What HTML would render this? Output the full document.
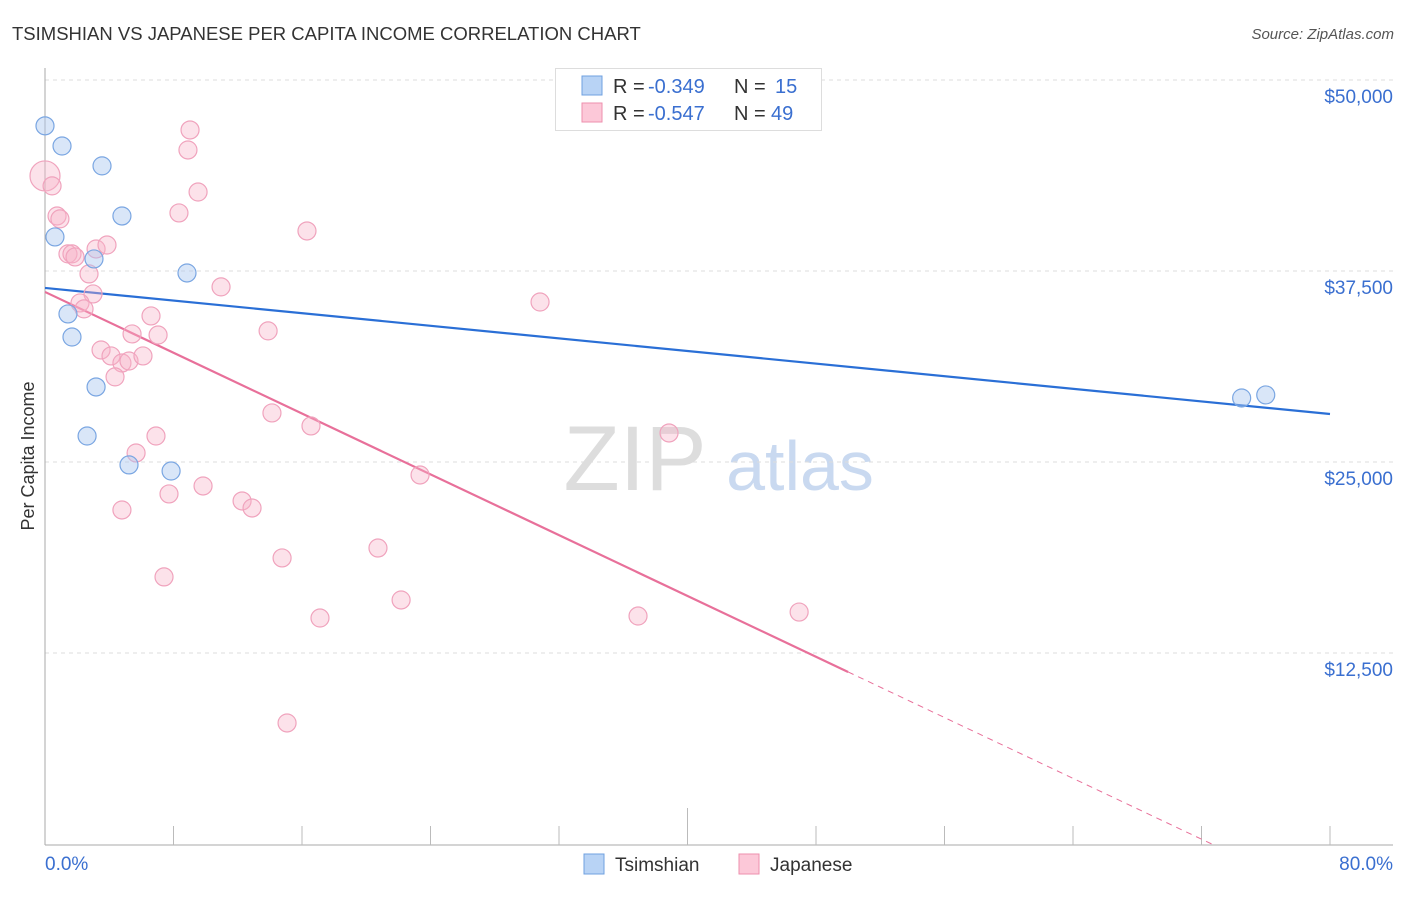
<!DOCTYPE html>
<html><head><meta charset="utf-8"><style>
body{margin:0;background:#fff;font-family:"Liberation Sans",sans-serif}
svg text{font-family:"Liberation Sans",sans-serif}
</style></head><body>
<svg id="c" width="1406" height="892" xmlns="http://www.w3.org/2000/svg">
<text x="12" y="40" font-size="18.5" fill="#333">TSIMSHIAN VS JAPANESE PER CAPITA INCOME CORRELATION CHART</text>
<text x="1394" y="39" font-size="15" fill="#555" text-anchor="end" font-style="italic">Source: ZipAtlas.com</text>
<text x="34" y="456" font-size="18" fill="#333" text-anchor="middle" transform="rotate(-90 34 456)">Per Capita Income</text>
<g><text x="635" y="490" font-size="92" fill="#ddd" text-anchor="middle" font-family="Liberation Serif">ZIP</text><text x="800" y="490" font-size="70" fill="#c9d9f0" text-anchor="middle">atlas</text></g>
<g id="grid"></g><g id="axes"></g><g id="lines"></g><g id="pts"></g>
<g>
<rect x="555.5" y="68.5" width="266" height="62" fill="#fff" stroke="#ddd"/>
<rect x="582" y="76" width="20" height="19" fill="#b8d3f5" stroke="#6fa0e0"/>
<rect x="582" y="103" width="20" height="19" fill="#fcc8d8" stroke="#ee8fae"/>
<text x="613" y="93" font-size="20" fill="#333">R =</text><text x="648" y="93" font-size="20" fill="#3a6fd0">-0.349</text>
<text x="734" y="93" font-size="20" fill="#333">N =</text><text x="775" y="93" font-size="20" fill="#3a6fd0">15</text>
<text x="613" y="120" font-size="20" fill="#333">R =</text><text x="648" y="120" font-size="20" fill="#3a6fd0">-0.547</text>
<text x="734" y="120" font-size="20" fill="#333">N =</text><text x="771" y="120" font-size="20" fill="#3a6fd0">49</text>
</g>
<g>
<rect x="584" y="854" width="20" height="20" fill="#b8d3f5" stroke="#6fa0e0"/><text x="615" y="871" font-size="19" fill="#333">Tsimshian</text>
<rect x="739" y="854" width="20" height="20" fill="#fcc8d8" stroke="#ee8fae"/><text x="770" y="871" font-size="19" fill="#333">Japanese</text>
</g>
</svg>
<script>
const yTicks=[12500,25000,37500,50000];
const yTickLabels=["$12,500","$25,000","$37,500","$50,000"];
const xTickLabels=["0.0%","80.0%"];
const tsX=[0,1.06,3.55,4.79,0.62,3.05,8.84,1.43,1.68,3.18,2.62,5.23,7.85,74.5,76.0];
const tsY=[47000,45680,44380,41100,39730,38290,37370,34690,33180,29910,26700,24810,24410,29190,29390];
const jpX=[0,0.44,0.75,0.93,9.03,8.90,9.53,8.34,16.31,3.18,3.86,1.43,1.68,1.87,2.74,2.99,2.18,2.43,10.96,30.82,6.60,5.42,7.04,13.89,3.49,4.11,4.79,5.23,6.10,4.36,14.13,16.56,6.91,38.85,5.67,23.35,9.84,7.72,12.27,12.89,4.79,20.73,14.76,7.41,22.17,36.92,46.95,17.12,15.07];
const jpY=[43720,43070,41100,40910,46730,45420,42670,41300,40120,38940,39200,38620,38620,38420,37310,36000,35410,35020,36460,35470,34560,33380,33310,33580,32330,31940,31480,31610,31940,30570,28210,27360,26700,26900,25590,24150,23430,22910,22450,21990,21860,19370,18720,17480,15970,14920,15180,14790,7920];
const jpR=[15,9,9,9,9,9,9,9,9,9,9,9,9,9,9,9,9,9,9,9,9,9,9,9,9,9,9,9,9,9,9,9,9,9,9,9,9,9,9,9,9,9,9,9,9,9,9,9,9];
const tsTrend=[36390,28140];
const jpTrend=[36130,11260];
const jpSolidEnd=50;
const X=v=>45+v*(1285/80), Y=v=>844-v*(191/12500);
const NS="http://www.w3.org/2000/svg";
function mk(t,a,p){const e=document.createElementNS(NS,t);for(const k in a)e.setAttribute(k,a[k]);p.appendChild(e);return e;}
const grid=document.getElementById('grid'),axes=document.getElementById('axes'),lines=document.getElementById('lines'),pts=document.getElementById('pts');
yTicks.forEach((t,i)=>{
 const g=mk('line',{x1:45,x2:1393,y1:Y(t),y2:Y(t),stroke:'#ddd','stroke-dasharray':'4,4'},grid);
 
 
 const l=mk('text',{x:1393,y:Y(t)+23,'font-size':19,fill:'#3a6fd0','text-anchor':'end'},axes);
 l.textContent=yTickLabels[i];
 
 
});
const ax=mk('line',{x1:45,x2:45,y1:68,y2:845,stroke:'#aaa'},axes);


const bx=mk('line',{x1:45,x2:1393,y1:845,y2:845,stroke:'#aaa'},axes);


for(let i=1;i<=10;i++){const v=i*8;const t=mk('line',{x1:X(v),x2:X(v),y1:i==5?808:826,y2:845,stroke:'#bbb'},axes);
 
 }
[[0,'start',45],[1,'end',1393]].forEach(([i,a,x])=>{const t=mk('text',{x:x,y:870,'font-size':19,fill:'#3a6fd0','text-anchor':a},axes);t.textContent=xTickLabels[i];
 
 });
const tl=mk('line',{x1:X(0),y1:Y(tsTrend[0]),x2:X(80),y2:Y(tsTrend[1]),stroke:'#2a6fd6','stroke-width':2.2},lines);


const sl=(jpTrend[1]-jpTrend[0])/jpSolidEnd;
const jl=mk('line',{x1:X(0),y1:Y(jpTrend[0]),x2:X(jpSolidEnd),y2:Y(jpTrend[1]),stroke:'#e8709a','stroke-width':2.2},lines);


const xz=-jpTrend[0]/sl;
const jd=mk('line',{x1:X(jpSolidEnd),y1:Y(jpTrend[1]),x2:X(xz),y2:Y(0),stroke:'#e8709a','stroke-width':1,'stroke-dasharray':'6,5'},lines);


jpX.forEach((x,i)=>{const c=mk('circle',{cx:X(x),cy:Y(jpY[i]),r:jpR[i],fill:'rgba(248,180,200,0.38)',stroke:'#f0a3bd','stroke-width':1.2},pts);
 
 });
tsX.forEach((x,i)=>{const c=mk('circle',{cx:X(x),cy:Y(tsY[i]),r:9,fill:'rgba(170,200,240,0.45)',stroke:'#7aa6e2','stroke-width':1.2},pts);
 
 });
</script>
</body></html>
